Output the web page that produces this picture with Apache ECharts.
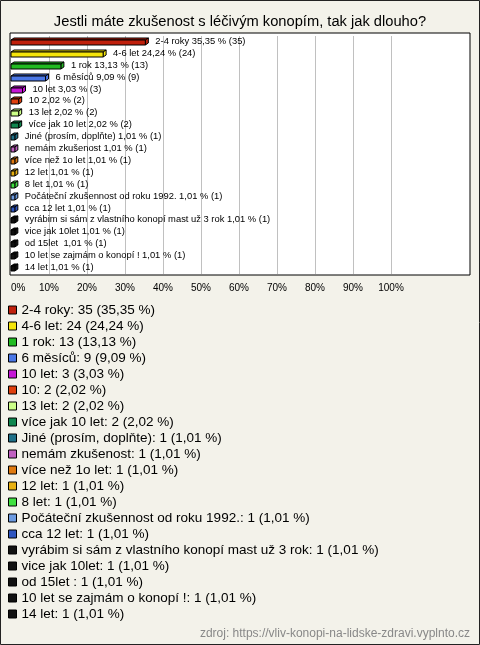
<!DOCTYPE html>
<html><head><meta charset="utf-8">
<script src="https://cdn.jsdelivr.net/npm/echarts@6/dist/echarts.min.js"></script>
<style>html,body{margin:0;padding:0;background:#f3f2ea}#c{width:480px;height:645px}</style>
</head><body><div id="c"></div>
<script>
const categories = ["2-4 roky","4-6 let","1 rok","6 měsíců","10 let","10","13 let","více jak 10 let","Jiné (prosím, doplňte)","nemám zkušenost","více než 1o let","12 let","8 let","Počáteční zkušennost od roku 1992.","cca 12 let","vyrábim si sám z vlastního konopí mast už 3 rok","vice jak 10let","od 15let ","10 let se zajmám o konopí !","14 let"];
const counts = [35,24,13,9,3,2,2,2,1,1,1,1,1,1,1,1,1,1,1,1];
const percents = [35.35,24.24,13.13,9.09,3.03,2.02,2.02,2.02,1.01,1.01,1.01,1.01,1.01,1.01,1.01,1.01,1.01,1.01,1.01,1.01];
const colors = ["#c0200c","#f5e50a","#22bb22","#4a77e6","#c517d6","#e0400e","#ccff88","#10864f","#1f7088","#c060c0","#e07a10","#e8b010","#40e040","#6c9ae0","#2f56c0","#111111","#111111","#111111","#111111","#111111"];
const xTicks = [0,10,20,30,40,50,60,70,80,90,100];

const fmt = v => v.toFixed(2).replace('.', ',');
const barLabels = categories.map((c,i)=> c + ' ' + fmt(percents[i]) + ' % (' + counts[i] + ')');
const legendNames = categories.map((c,i)=> c + ': ' + counts[i] + ' (' + fmt(percents[i]) + ' %)');

const chart = echarts.init(document.getElementById('c'));
const dummy = legendNames.map((n,i)=>({type:'scatter', name:n, xAxisIndex:0, yAxisIndex:0, data:[], itemStyle:{color:colors[i], opacity:1}}));

chart.setOption({
  backgroundColor:'#f3f2ea',
  animation:false,
  graphic:[{type:'rect', shape:{x:0.5,y:0.5,width:479,height:644}, style:{fill:'none', stroke:'#222', lineWidth:1}, z:100}],
  title:[
    {text:'Jestli máte zkušenost s léčivým konopím, tak jak dlouho?', left:'center', top:9, textStyle:{fontFamily:'Liberation Sans', fontSize:14.7, fontWeight:'normal', color:'#000'}},
    {text:'zdroj: https://vliv-konopi-na-lidske-zdravi.vyplnto.cz', right:5, top:623, textStyle:{fontFamily:'Liberation Sans', fontSize:12, fontWeight:'normal', color:'#888'}}
  ],
  grid:[
    {left:10, top:33, width:460, height:242, show:true, backgroundColor:'#fff', borderColor:'#000', borderWidth:1, containLabel:false},
    {left:11, top:36, width:380, height:238, containLabel:false}
  ],
  xAxis:[
    {gridIndex:0, type:'value', show:false, min:0, max:1},
    {gridIndex:1, type:'value', min:0, max:100, interval:10,
     axisLine:{show:false}, axisTick:{show:false},
     splitLine:{show:true, showMinLine:false, lineStyle:{color:'#c0c0c0', width:1}},
     axisLabel:{margin:9, fontFamily:'Liberation Sans', fontSize:10, color:'#000', alignMinLabel:'left', formatter: v => xTicks.includes(v) ? v + '%' : ''}}
  ],
  yAxis:[
    {gridIndex:0, type:'value', show:false, min:0, max:1},
    {gridIndex:1, type:'category', data:categories, inverse:true, show:false}
  ],
  legend:{
    orient:'vertical', left:8, top:303, padding:0, itemWidth:8, itemHeight:8, itemGap:2, icon:'rect',
    itemStyle:{borderColor:'#000', borderWidth:1, opacity:1},
    textStyle:{fontFamily:'Liberation Sans', fontSize:13.5, lineHeight:13, color:'#000'},
    selectedMode:false,
    data: legendNames
  },
  series:[{
    type:'custom', xAxisIndex:1, yAxisIndex:1,
    data: percents.map((p,i)=>[p,i]),
    renderItem:function(params, api){
      const v = api.value(0), i = api.value(1);
      const s = api.coord([0,i]), e = api.coord([v,i]);
      const x0 = s[0], x1 = e[0], c = Math.round(s[1]);
      const col = colors[i];
      const st = {fill:col, stroke:'#000', lineWidth:1};
      const dx = 3, dy = 2, t = c-2, b = c+3;
      return {type:'group', children:[
        {type:'polygon', shape:{points:[[x0,t],[x0+dx,t-dy],[x1+dx,t-dy],[x1,t]]}, style:st},
        {type:'polygon', shape:{points:[[x1,t],[x1+dx,t-dy],[x1+dx,b-dy],[x1,b]]}, style:st},
        {type:'rect', shape:{x:x0, y:t, width:x1-x0, height:b-t}, style:st},
        {type:'text', x:x1+dx+7, y:c-0.5, style:{text:barLabels[i], fontFamily:'Liberation Sans', fontSize:9.4, fill:'#000', verticalAlign:'middle', align:'left'}}
      ]};
    }
  }].concat(dummy)
});
</script></body></html>
